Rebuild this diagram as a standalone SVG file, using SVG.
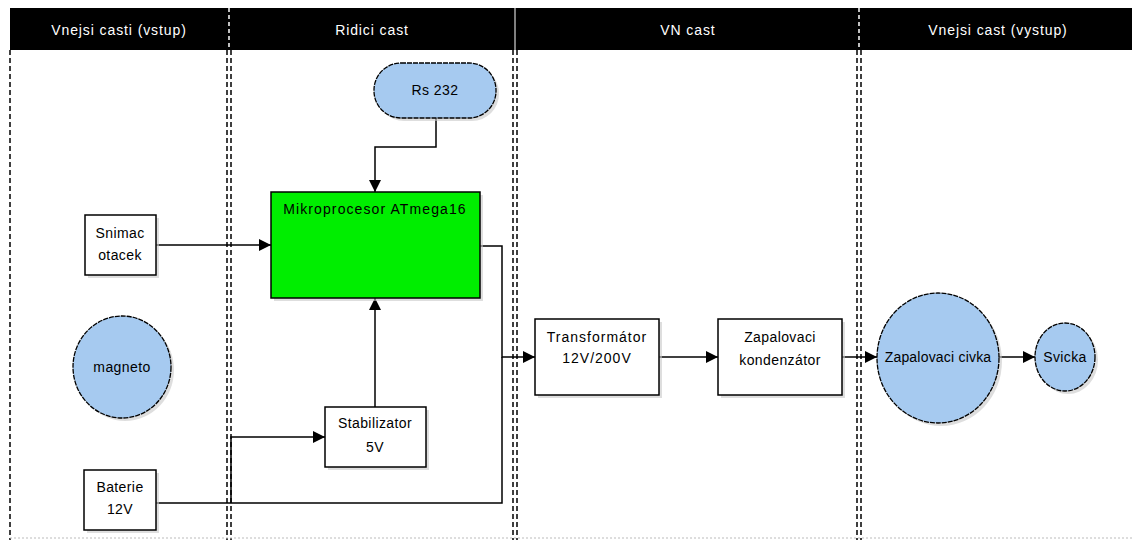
<svg xmlns="http://www.w3.org/2000/svg" width="1132" height="540" viewBox="0 0 1132 540">
<defs>
<marker id="ah" viewBox="0 0 10 10" refX="10" refY="5" markerWidth="12" markerHeight="12" markerUnits="userSpaceOnUse" orient="auto">
<path d="M0,0 L10,5 L0,10 Z" fill="#000"/>
</marker>
</defs>
<style>
.lane{stroke:#000;stroke-width:1.5;stroke-dasharray:5,3;fill:none}
.hdr{fill:#fff;font-family:"Liberation Sans",Arial,sans-serif;font-size:14px;letter-spacing:0.9px;text-anchor:middle}
.box{fill:#fff;stroke:#000;stroke-width:1.5}
.shadow{fill:#c8c8c8;opacity:0.6}
.ell{fill:#a6caf0;stroke:#000;stroke-width:1.3;stroke-dasharray:5,1}
.t{fill:#000;font-family:"Liberation Sans",Arial,sans-serif;font-size:14px;letter-spacing:0.4px;text-anchor:middle}
.c{stroke:#000;stroke-width:1.5;fill:none;marker-end:url(#ah)}
.cn{stroke:#000;stroke-width:1.5;fill:none}
</style>
<rect width="1132" height="540" fill="#fff"/>
<g id="lanes">
<rect x="10" y="8" width="1122" height="42" fill="#000"/>
<line x1="229" y1="8" x2="229" y2="50" stroke="#fff" stroke-width="1.5" stroke-dasharray="4,3"/>
<line x1="515" y1="8" x2="515" y2="50" stroke="#fff" stroke-width="1"/>
<line x1="859" y1="8" x2="859" y2="50" stroke="#fff" stroke-width="1.5" stroke-dasharray="4,3"/>
<line class="lane" x1="10" y1="50" x2="10" y2="540"/>
<line class="lane" x1="227" y1="50" x2="227" y2="540"/>
<line class="lane" x1="231" y1="50" x2="231" y2="540"/>
<line class="lane" x1="513" y1="50" x2="513" y2="540"/>
<line class="lane" x1="517" y1="50" x2="517" y2="540"/>
<line class="lane" x1="857" y1="50" x2="857" y2="540"/>
<line class="lane" x1="861" y1="50" x2="861" y2="540"/>
<line x1="10" y1="538" x2="1132" y2="538" stroke="#bbb" stroke-width="1" stroke-dasharray="2,2"/>
<text class="hdr" x="119" y="35">Vnejsi casti (vstup)</text>
<text class="hdr" x="372" y="35">Ridici cast</text>
<text class="hdr" x="688" y="35">VN cast</text>
<text class="hdr" x="998" y="35">Vnejsi cast (vystup)</text>
</g>
<g id="connectors">
<path class="c" d="M436,117 V147 H375 V192"/>
<path class="c" d="M156,245 H271"/>
<path class="c" d="M375,407 V298"/>
<path class="c" d="M480,246 H502 V357 H535"/>
<path class="cn" d="M156,503 H502 V357"/>
<path class="c" d="M231,503 V437 H325"/>
<path class="c" d="M659,357 H718"/>
<path class="c" d="M842,357 H877"/>
<path class="c" d="M999,357 H1035"/>
</g>
<g id="rs232">
<rect x="377" y="66" width="122" height="55" rx="27" class="shadow"/>
<rect x="374" y="63" width="122" height="55" rx="27" class="ell"/>
<text class="t" x="435" y="95">Rs 232</text>
</g>
<g id="mcu">
<rect x="274" y="195" width="209" height="106" class="shadow"/>
<rect x="271" y="192" width="209" height="106" fill="#00ee00" stroke="#000" stroke-width="1.5"/>
<text class="t" x="375" y="214" style="letter-spacing:1.1px">Mikroprocesor ATmega16</text>
</g>
<g id="snimac">
<rect x="88" y="218" width="71" height="60" class="shadow"/>
<rect x="85" y="215" width="71" height="60" class="box"/>
<text class="t" x="120" y="238">Snimac</text>
<text class="t" x="120" y="260">otacek</text>
</g>
<g id="magneto">
<ellipse cx="125" cy="370" rx="49" ry="51" class="shadow"/>
<ellipse cx="122" cy="367" rx="49" ry="51" class="ell"/>
<text class="t" x="122" y="372">magneto</text>
</g>
<g id="stabilizator">
<rect x="328" y="410" width="101" height="60" class="shadow"/>
<rect x="325" y="407" width="101" height="60" class="box"/>
<text class="t" x="375" y="428">Stabilizator</text>
<text class="t" x="375" y="452">5V</text>
</g>
<g id="baterie">
<rect x="87" y="473" width="72" height="60" class="shadow"/>
<rect x="84" y="470" width="72" height="60" class="box"/>
<text class="t" x="120" y="492">Baterie</text>
<text class="t" x="120" y="514">12V</text>
</g>
<g id="transformator">
<rect x="538" y="322" width="124" height="76" class="shadow"/>
<rect x="535" y="319" width="124" height="76" class="box"/>
<text class="t" x="597" y="342" style="letter-spacing:1px">Transformátor</text>
<text class="t" x="597" y="363" style="letter-spacing:1px">12V/200V</text>
</g>
<g id="kondenzator">
<rect x="721" y="322" width="124" height="76" class="shadow"/>
<rect x="718" y="319" width="124" height="76" class="box"/>
<text class="t" x="780" y="342">Zapalovaci</text>
<text class="t" x="780" y="365">kondenzátor</text>
</g>
<g id="civka">
<ellipse cx="941" cy="361" rx="61" ry="65" class="shadow"/>
<ellipse cx="938" cy="358" rx="61" ry="65" class="ell"/>
<text class="t" x="938" y="362" style="letter-spacing:0.2px">Zapalovaci civka</text>
</g>
<g id="svicka">
<ellipse cx="1068" cy="360" rx="30" ry="34" class="shadow"/>
<ellipse cx="1065" cy="357" rx="30" ry="34" class="ell"/>
<text class="t" x="1065" y="362">Svicka</text>
</g>
</svg>
